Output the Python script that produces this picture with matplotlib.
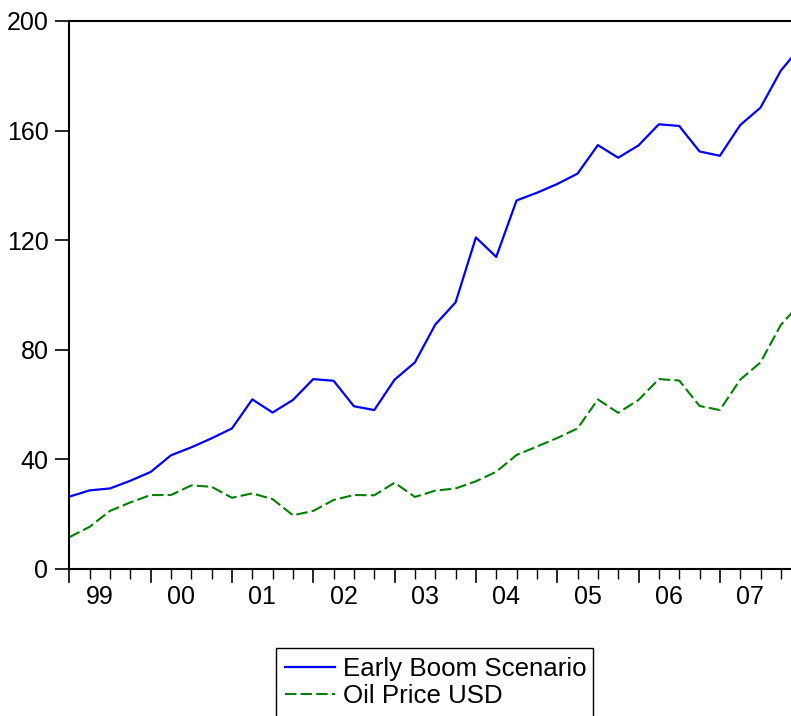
import numpy as np
import matplotlib
matplotlib.use('Agg')
import matplotlib.pyplot as plt
import matplotlib.transforms as mtransforms
from matplotlib.patches import Rectangle

plt.rcParams['font.family'] = ['Liberation Sans', 'DejaVu Sans']

# quarterly data, 1999Q1 .. 2008Q1 (last point falls past the right edge)
years = ['99', '00', '01', '02', '03', '04', '05', '06', '07']
early_boom = [26.4, 28.7, 29.4, 32.2, 35.4, 41.5, 44.4, 47.7, 51.3, 61.9,
              57.1, 61.7, 69.3, 68.7, 59.4, 58.0, 69.1, 75.4, 89.2, 97.3,
              121.0, 113.9, 134.5, 137.3, 140.5, 144.3, 154.7, 150.1, 154.6, 162.3,
              161.7, 152.4, 150.8, 162.0, 168.4, 181.9, 190.8]
oil_price = [11.6, 15.4, 21.2, 24.3, 27.0, 27.0, 30.5, 30.0, 26.0, 27.6,
             25.5, 19.6, 21.2, 25.2, 27.0, 26.9, 31.5, 26.3, 28.6, 29.4,
             32.0, 35.5, 41.6, 44.7, 47.8, 51.3, 61.9, 57.0, 61.7, 69.3,
             68.8, 59.5, 58.0, 69.1, 75.4, 89.1, 97.3]

q = np.arange(len(early_boom))
fs = 18

fig = plt.figure(figsize=(7.91, 7.16), dpi=100)
ax = fig.add_axes([69.3 / 791, 1 - 569 / 716, 1 - 69.3 / 791, 548 / 716])

ax.plot(q, early_boom, color='#0000FF', lw=1.6, label='Early Boom Scenario')
ax.plot(q, oil_price, color='#008000', lw=1.5, dashes=(5.5, 2), label='Oil Price USD')

ax.set_xlim(0, 35.5)
ax.set_ylim(0, 200)
ax.set_yticks([0, 40, 80, 120, 160, 200])
ax.tick_params(axis='y', direction='out', length=10, width=1.2, pad=5, labelsize=fs)

# quarters as minor ticks, year starts as longer ticks, labels centred on each year
ax.set_xticks(np.arange(0, 36, 4))
ax.set_xticklabels([])
ax.set_xticks(np.arange(0, 36, 1), minor=True)
ax.tick_params(axis='x', which='major', length=0)
ax.tick_params(axis='x', which='minor', direction='out', length=7, width=1.0)
trans = mtransforms.blended_transform_factory(ax.transData, ax.transAxes)
for k, yr in enumerate(years):
    ax.plot([4 * k, 4 * k], [0, -13 / 548], color='black', lw=1.2,
            transform=trans, clip_on=False)
    ax.text(4 * k + 1.5, -28 / 548, yr, transform=trans, ha='center', va='center',
            fontsize=fs)

for side in ['left', 'top', 'bottom']:
    ax.spines[side].set_linewidth(1.5)
ax.spines['right'].set_visible(False)

leg = ax.legend(loc='upper left', bbox_to_anchor=(277 / 791, 1 - 649 / 716),
                bbox_transform=fig.transFigure, fontsize=18.6, frameon=False,
                handlelength=1.95, handletextpad=0.3, labelspacing=0.12,
                borderpad=0.3, borderaxespad=0)
# legend box runs off the bottom of the picture
fig.add_artist(Rectangle((276 / 791, -0.05), (593 - 276) / 791, 0.05 + 1 - 648 / 716,
                         transform=fig.transFigure, fill=False, edgecolor='black',
                         lw=1.0))

fig.savefig('out.png', dpi=100)
